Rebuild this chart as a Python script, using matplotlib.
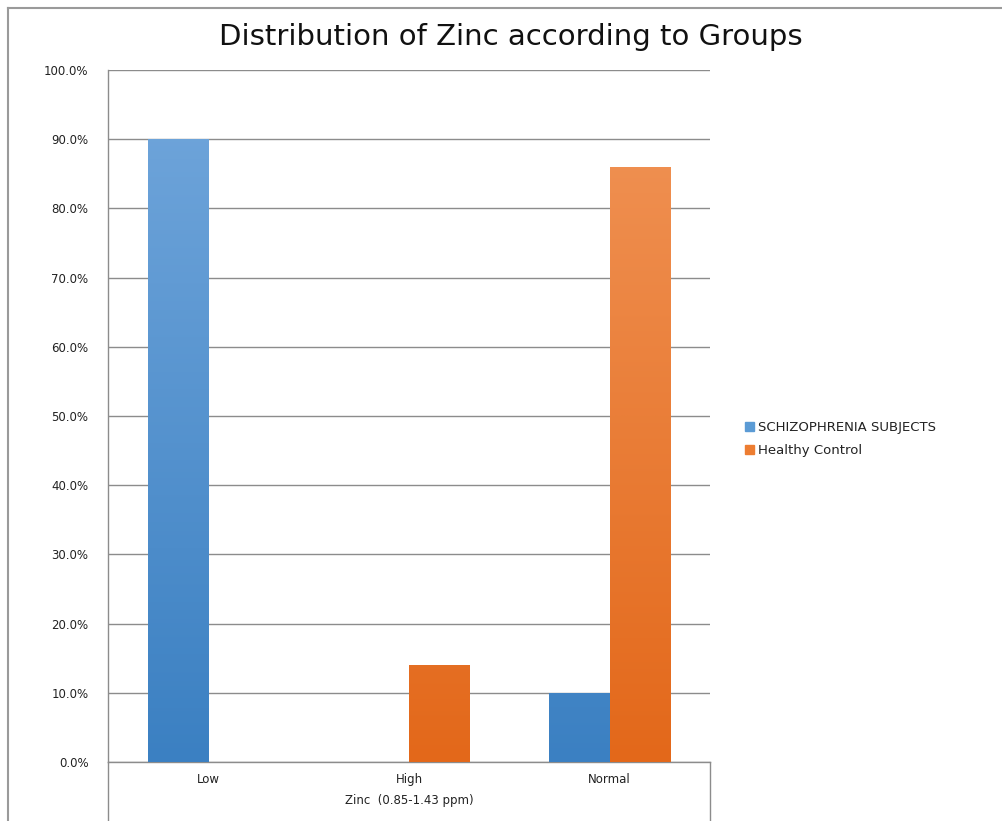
import numpy as np
import matplotlib
matplotlib.use("Agg")
import matplotlib.pyplot as plt
from matplotlib.lines import Line2D
from matplotlib.colors import LinearSegmentedColormap

categories = ["Low", "High", "Normal"]
schizophrenia = [90.0, 0.0, 10.0]
healthy = [0.0, 14.0, 86.0]
series_names = ["SCHIZOPHRENIA SUBJECTS", "Healthy Control"]
yticks = [0, 10, 20, 30, 40, 50, 60, 70, 80, 90, 100]

blue_top, blue_bottom, blue_mid = "#72a7dc", "#3b80c2", "#5b9bd5"
orange_top, orange_bottom, orange_mid = "#f19558", "#e3681a", "#ed7d31"

W, H = 1003, 821
fig = plt.figure(figsize=(W / 100, H / 100), dpi=100)
ax = fig.add_axes([108 / W, 1 - 762 / H, (710 - 108) / W, (762 - 70) / H])

x = np.arange(len(categories))
bw = 0.3
b1 = ax.bar(x - bw / 2, schizophrenia, bw, color=blue_mid, zorder=2, linewidth=0)
b2 = ax.bar(x + bw / 2, healthy, bw, color=orange_mid, zorder=2, linewidth=0)


def shade(bars, top, bottom):
    cmap = LinearSegmentedColormap.from_list("g", [bottom, top])
    grad = np.linspace(0, 1, 256).reshape(-1, 1)
    for p in bars:
        h = p.get_height()
        if h <= 0:
            continue
        x0 = p.get_x()
        im = ax.imshow(grad, cmap=cmap, origin="lower", aspect="auto",
                       extent=[x0, x0 + p.get_width(), 0, 100], zorder=3)
        im.set_clip_path(p)


shade(b1, blue_top, blue_bottom)
shade(b2, orange_top, orange_bottom)

ax.set_xlim(-0.5, 2.5)
ax.set_ylim(0, 100)
ax.set_yticks(yticks)
ax.set_yticklabels([f"{v:.1f}%" for v in yticks])
ax.set_xticks(x)
ax.set_xticklabels(categories)
ax.tick_params(axis="both", length=0, labelsize=8.5, colors="#222222")
ax.tick_params(axis="y", pad=14)
ax.tick_params(axis="x", pad=8)
ax.grid(axis="y", color="#8c8c8c", linewidth=1.0, zorder=1)
ax.set_axisbelow(True)
for s in ["top", "right"]:
    ax.spines[s].set_visible(False)
for s in ["left", "bottom"]:
    ax.spines[s].set_color("#8c8c8c")
    ax.spines[s].set_linewidth(1.0)

# category axis box lines below the plot area
for xa in (0, 1):
    ax.add_line(Line2D([xa, xa], [0, -0.09], transform=ax.transAxes,
                       color="#8c8c8c", linewidth=1.0, clip_on=False))

ax.set_xlabel("Zinc  (0.85-1.43 ppm)", fontsize=8.5, color="#222222", labelpad=6)

fig.text(511 / W, 1 - 37 / H, "Distribution of Zinc according to Groups",
         ha="center", va="center", fontsize=21, color="#111111")

# outer frame
fig.add_artist(Line2D([8 / W, 8 / W], [0, 1 - 8 / H], transform=fig.transFigure,
                      color="#9a9a9a", linewidth=1.5))
fig.add_artist(Line2D([8 / W, 1], [1 - 8 / H, 1 - 8 / H], transform=fig.transFigure,
                      color="#9a9a9a", linewidth=1.5))

handles = [plt.Rectangle((0, 0), 1, 1, color=blue_mid),
           plt.Rectangle((0, 0), 1, 1, color=orange_mid)]
fig.legend(handles, series_names, loc="center left",
           bbox_to_anchor=(733 / W, 1 - 439 / H), frameon=False,
           fontsize=9.5, handlelength=0.7, handleheight=0.7,
           handletextpad=0.3, labelspacing=0.75, labelcolor="#222222")

fig.savefig("out.png", dpi=100)
